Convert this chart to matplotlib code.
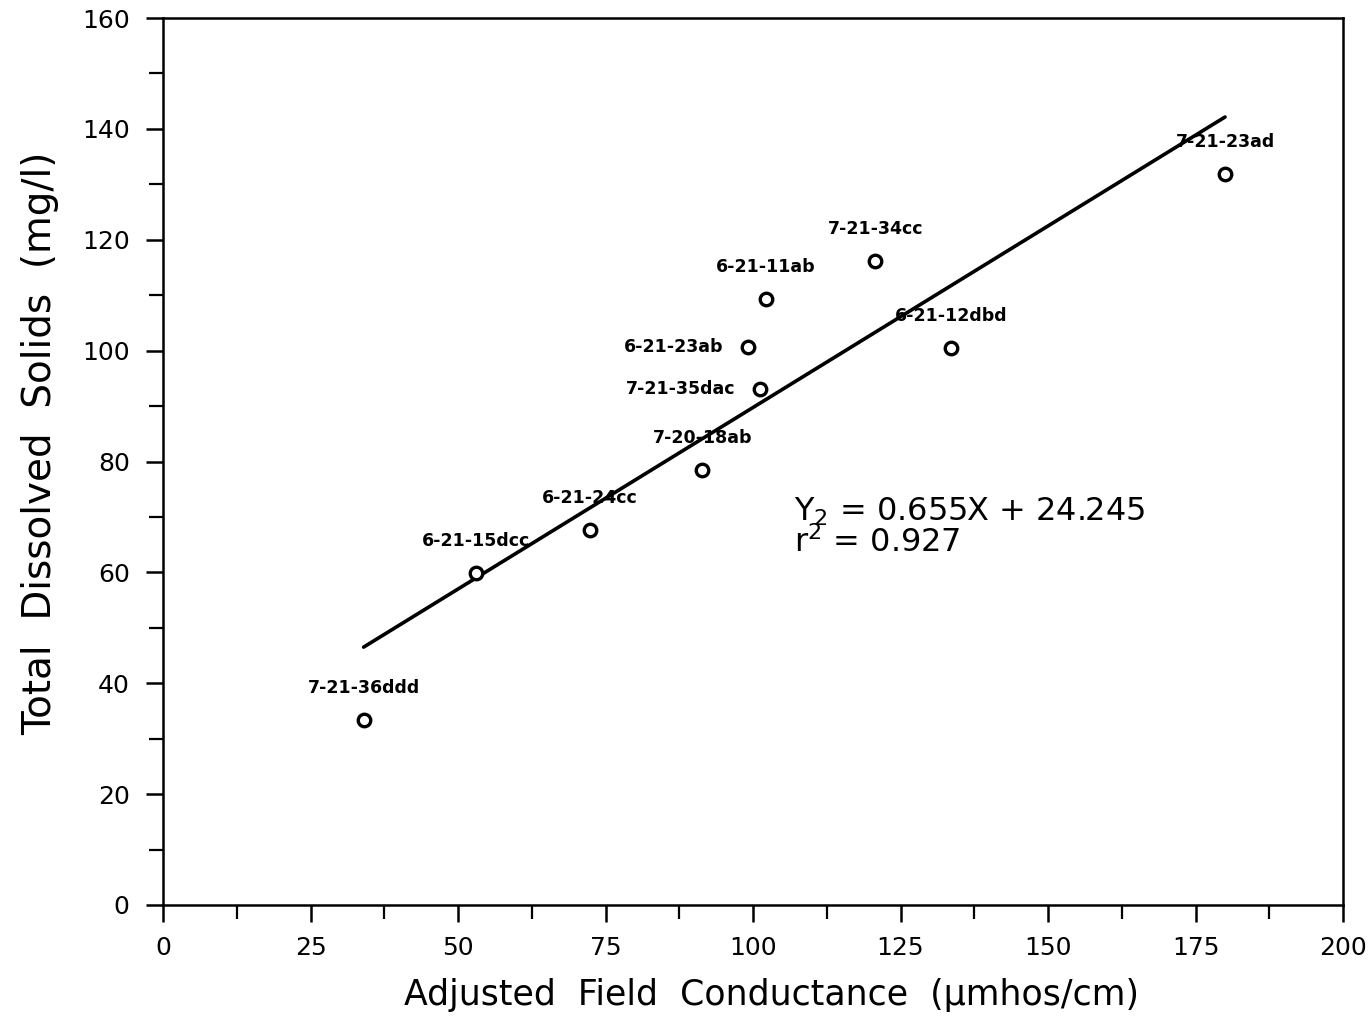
import matplotlib
matplotlib.use("Agg")
import matplotlib.pyplot as plt
from matplotlib.ticker import MultipleLocator
import numpy as np

# Well sites: adjusted field conductance vs total dissolved solids
sites = ["7-21-36ddd", "6-21-15dcc", "6-21-24cc", "7-20-18ab", "6-21-23ab",
         "7-21-35dac", "6-21-11ab", "7-21-34cc", "6-21-12dbd", "7-21-23ad"]
conductance = [34, 53, 72.4, 91.4, 99.2, 101.2, 102.2, 120.7, 133.6, 180]
tds = [33.4, 59.9, 67.7, 78.5, 100.7, 93.0, 109.4, 116.2, 100.4, 131.8]

# Least-squares fit
slope = 0.655
intercept = 24.245
r_squared = 0.927
fit_range = [34, 180]

xticks = [0, 25, 50, 75, 100, 125, 150, 175, 200]
yticks = [0, 20, 40, 60, 80, 100, 120, 140, 160]

# label placement: "above" centred over the point, "left" beside it
placement = ["above", "above", "above", "above", "left",
             "left", "above", "above", "above", "above"]

fig = plt.figure(figsize=(13.71, 10.19), dpi=100)
ax = fig.add_axes([0.1189, 0.1119, 0.8607, 0.8704])

fx = np.array(fit_range, dtype=float)
ax.plot(fx, slope * fx + intercept, color="black", lw=2.6, solid_capstyle="round")

ax.plot(conductance, tds, linestyle="none", marker="o", markersize=9,
        markerfacecolor="white", markeredgecolor="black", markeredgewidth=2.4, zorder=3)

for name, x, y, where in zip(sites, conductance, tds, placement):
    if where == "above":
        ax.annotate(name, (x, y), xytext=(0, 23), textcoords="offset points",
                    ha="center", va="center", fontsize=12.5, fontweight="bold")
    else:
        ax.annotate(name, (x, y), xytext=(-18, 0), textcoords="offset points",
                    ha="right", va="center", fontsize=12.5, fontweight="bold")

eq_text = r"Y$_2$ = " + f"{slope:.3f}X + {intercept:.3f}"
ax.text(107.0, 71.0, eq_text, fontsize=23, ha="left", va="center")
ax.text(107.0, 65.4, r"r$^2$ = " + f"{r_squared:.3f}", fontsize=23, ha="left", va="center")

ax.set_xlim(0, 200)
ax.set_ylim(0, 160)
ax.set_xticks(xticks)
ax.set_yticks(yticks)
ax.xaxis.set_minor_locator(MultipleLocator(12.5))
ax.yaxis.set_minor_locator(MultipleLocator(10))
ax.tick_params(which="major", direction="out", length=12, width=1.8, labelsize=18)
ax.tick_params(axis="x", which="major", pad=10)
ax.tick_params(axis="y", which="major", pad=12)
ax.tick_params(which="minor", direction="out", length=10, width=1.6)
for s in ax.spines.values():
    s.set_linewidth(1.8)

ax.set_xlabel("Adjusted  Field  Conductance  (\u03bcmhos/cm)", fontsize=25)
ax.xaxis.set_label_coords(0.516, -0.082)
ax.set_ylabel("Total  Dissolved  Solids  (mg/l)", fontsize=28)
ax.yaxis.set_label_coords(-0.088, 0.52)

fig.savefig("out.png", dpi=100, facecolor="white")
